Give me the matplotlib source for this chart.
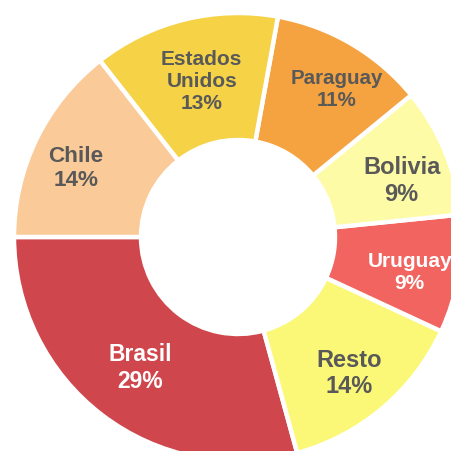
import matplotlib
matplotlib.use("Agg")
import matplotlib.pyplot as plt
import numpy as np

# Data (share of total, %), drawn counter-clockwise starting at 9 o'clock
categories = ["Brasil", "Resto", "Uruguay", "Bolivia", "Paraguay", "Estados\nUnidos", "Chile"]
values = [29.2, 13.8, 8.5, 9.3, 11.2, 13.4, 14.4]
pct_labels = ["29%", "14%", "9%", "9%", "11%", "13%", "14%"]

# Styles
colors = ["#D0464D", "#FBF877", "#F2645F", "#FEFBA6", "#F5A240", "#F5D246", "#FACB99"]
text_colors = ["white", "#595959", "white", "#595959", "#595959", "#595959", "#595959"]
font_sizes = [16.5, 17, 15, 17, 14.8, 15, 16.2]
label_r = [0.72, 0.775, 0.78, 0.776, 0.80, 0.725, 0.79]
label_dang = [0.0, -0.5, -1.3, -2.8, -2.8, -1.0, 2.3]

plt.rcParams['font.family'] = ['Liberation Sans', 'DejaVu Sans']

fig = plt.figure(figsize=(4.51, 4.52), dpi=100)
ax = fig.add_axes([0, 0, 1, 1])
ax.set_axis_off()

wedges, _ = ax.pie(values, colors=colors, startangle=180, counterclock=True,
                   radius=1.0,
                   wedgeprops=dict(width=0.567, edgecolor="white", linewidth=3.2))

for w, cat, pct, tc, fs, r, da in zip(wedges, categories, pct_labels, text_colors,
                                      font_sizes, label_r, label_dang):
    ang = np.deg2rad((w.theta1 + w.theta2) / 2 + da)
    ax.text(r * np.cos(ang), r * np.sin(ang) - 0.008, f"{cat}\n{pct}", ha="center", va="center",
            color=tc, fontsize=fs, fontweight="bold", linespacing=1.2)

# centre at (238, 238) px, outer radius 224 px
s = 224.0
ax.set_xlim(-238 / s, (451 - 238) / s)
ax.set_ylim(-(452 - 238) / s, 238 / s)
ax.set_aspect("auto")

fig.savefig("out.png", dpi=100)
